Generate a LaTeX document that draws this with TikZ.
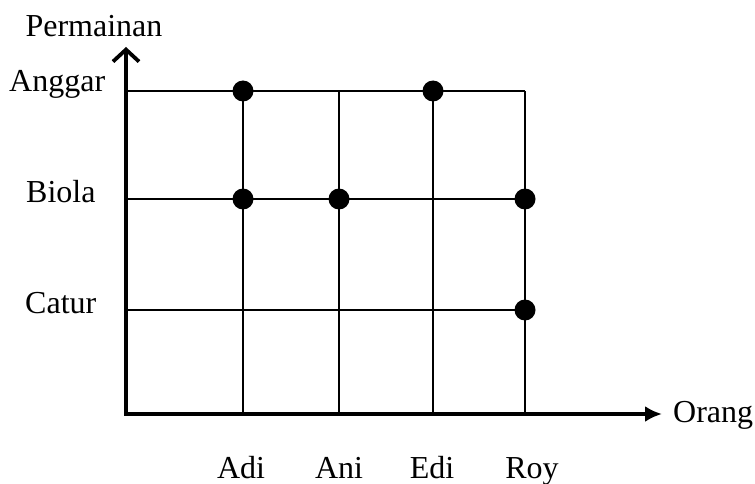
\documentclass[tikz,border=0pt]{standalone}
\usepackage{fontspec}
\setmainfont{Liberation Serif}
\usetikzlibrary{arrows.meta}
\begin{document}
\begin{tikzpicture}[x=1pt,y=-1pt,
  lbl/.style={font=\fontsize{32}{32}\selectfont, inner sep=0pt},
  grid/.style={line width=2pt},
  axis/.style={line width=3.8pt},
  dot/.style={circle, fill=black, minimum size=21pt, inner sep=0pt}]
\useasboundingbox (0,0) rectangle (755,484);
% coordinates
\coordinate (O) at (126,414);
\coordinate (ytip) at (126,47);
\coordinate (xtip) at (662,414);
\foreach \n/\y in {A/91,B/199,C/310}{
  \coordinate (L\n) at (126,\y);
  \coordinate (R\n) at (525,\y);
}
\foreach \n/\x in {adi/243,ani/339,edi/433,roy/525}{
  \coordinate (T\n) at (\x,91);
  \coordinate (U\n) at (\x,414);
}
% grid
\draw[grid] (LA) -- (RA);
\draw[grid] (LB) -- (RB);
\draw[grid] (LC) -- (RC);
\draw[grid] (Tadi) -- (Uadi);
\draw[grid] (Tani) -- (Uani);
\draw[grid] (Tedi) -- (Uedi);
\draw[grid] (Troy) -- (Uroy);
% axes
\draw[axis, line cap=rect, -{Straight Barb[length=12pt,width=26pt,line width=3.8pt]}] (O) -- (ytip);
\draw[axis, -{Latex[length=17pt,width=16pt]}] (O) -- (xtip);
% dots
\node[dot] (d1) at (243,91) {};
\node[dot] (d2) at (433,91) {};
\node[dot] (d3) at (243,199) {};
\node[dot] (d4) at (339,199) {};
\node[dot] (d5) at (525,199) {};
\node[dot] (d6) at (525,310) {};
% labels
\node[lbl, anchor=base] (perm) at (94,37) {Permainan};
\node[lbl, anchor=base west] (ang) at (9,92) {Anggar};
\node[lbl, anchor=base west] (bio) at (26,202) {Biola};
\node[lbl, anchor=base west] (cat) at (25,313) {Catur};
\node[lbl, anchor=base west] (ora) at (673,422) {Orang};
\node[lbl, anchor=base] (adi) at (241,478) {Adi};
\node[lbl, anchor=base] (ani) at (339,478) {Ani};
\node[lbl, anchor=base] (edi) at (432,478) {Edi};
\node[lbl, anchor=base] (roy) at (532,478) {Roy};
\end{tikzpicture}
\end{document}
